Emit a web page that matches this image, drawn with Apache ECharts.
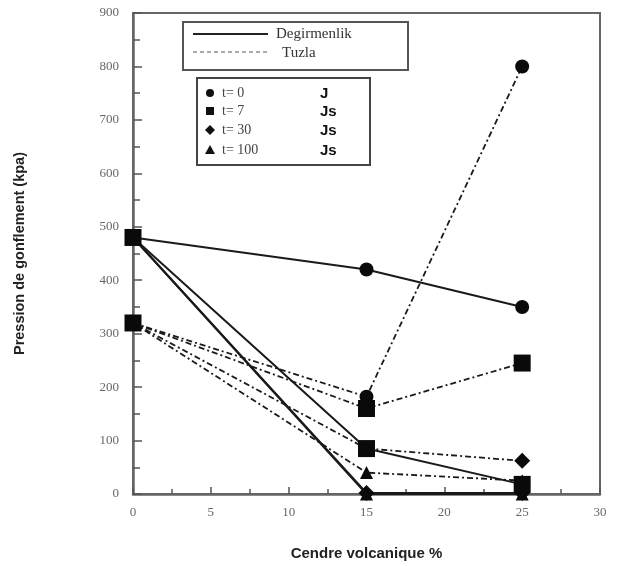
<!DOCTYPE html>
<html>
<head>
<meta charset="utf-8">
<script src="https://cdn.jsdelivr.net/npm/echarts@6/dist/echarts.min.js"></script>
<style>
  html, body { margin: 0; padding: 0; background: #fff; }
  #chart { width: 618px; height: 566px; }
</style>
</head>
<body>
<div id="chart"></div>
<script>
// cendre volcanique (%)
const ash = [0, 15, 25]
const timeLabels = ['t= 0', 't= 7', 't= 30', 't= 100']
const timeUnits = ['J', 'Js', 'Js', 'Js']
const timeSymbols = ['circle', 'rect', 'diamond', 'triangle']

// pression de gonflement (kPa)
const degirmenlik = [
  [480, 420, 350],
  [480, 85, 18],
  [480, 2, 2],
  [480, 0, 0],
]
const tuzla = [
  [320, 182, 800],
  [320, 160, 245],
  [320, 85, 62],
  [320, 40, 25],
]

const xTicks = [0, 5, 10, 15, 20, 25, 30]
const yTicks = [0, 100, 200, 300, 400, 500, 600, 700, 800, 900]

const symbolSizes = [14, 17, 16, 13]
const serif = '"Liberation Serif", "DejaVu Serif", serif'
const sans = '"Liberation Sans", Arial, sans-serif'

function makeSeries(name, values, lineType, width) {
  return values.map((vals, i) => ({
    name: name + ' ' + timeLabels[i],
    type: 'line',
    data: ash.map((x, j) => [x, vals[j]]),
    symbol: timeSymbols[i],
    symbolSize: symbolSizes[i],
    showSymbol: true,
    itemStyle: { color: '#0a0a0a' },
    lineStyle: { color: '#1a1a1a', width: width, type: lineType },
    z: i === 1 ? 5 : 3,
    silent: true,
  }))
}

const chart = echarts.init(document.getElementById('chart'))

const legendX = 197
const legendRows = [93, 111, 130, 150]

const graphics = [
  // legende sites
  { type: 'rect', shape: { x: 183, y: 22, width: 225, height: 48 }, style: { fill: '#fff', stroke: '#555', lineWidth: 2 } },
  { type: 'line', shape: { x1: 193, y1: 34, x2: 268, y2: 34 }, style: { stroke: '#222', lineWidth: 1.8 } },
  { type: 'text', x: 276, y: 34, style: { text: 'Degirmenlik', font: '15px ' + serif, fill: '#333', verticalAlign: 'middle' } },
  { type: 'line', shape: { x1: 193, y1: 52, x2: 268, y2: 52 }, style: { stroke: '#555', lineWidth: 1, lineDash: [4, 3] } },
  { type: 'text', x: 282, y: 53, style: { text: 'Tuzla', font: '15px ' + serif, fill: '#333', verticalAlign: 'middle' } },
  // legende temps
  { type: 'rect', shape: { x: legendX, y: 78, width: 173, height: 87 }, style: { fill: '#fff', stroke: '#444', lineWidth: 2 } },
]

timeLabels.forEach((label, i) => {
  const y = legendRows[i]
  const sx = 210
  let shape
  if (i === 0) shape = { type: 'circle', shape: { cx: sx, cy: y, r: 4 } }
  else if (i === 1) shape = { type: 'rect', shape: { x: sx - 4, y: y - 4, width: 8, height: 8 } }
  else if (i === 2) shape = { type: 'polygon', shape: { points: [[sx, y - 5], [sx + 5, y], [sx, y + 5], [sx - 5, y]] } }
  else shape = { type: 'polygon', shape: { points: [[sx, y - 5], [sx + 5, y + 4], [sx - 5, y + 4]] } }
  shape.style = { fill: '#111' }
  graphics.push(shape)
  graphics.push({ type: 'text', x: 222, y: y, style: { text: label, font: '14px ' + serif, fill: '#444', verticalAlign: 'middle' } })
  graphics.push({ type: 'text', x: 320, y: y + 1, style: { text: timeUnits[i], font: 'bold 15px ' + sans, fill: '#111', verticalAlign: 'middle' } })
})

chart.setOption({
  backgroundColor: '#fff',
  animation: false,
  grid: {
    left: 133, right: 18, top: 13, bottom: 69,
    show: true, borderColor: '#666', borderWidth: 2, backgroundColor: 'transparent',
  },
  xAxis: {
    type: 'value',
    min: 0, max: 30, interval: 5,
    name: 'Cendre volcanique %',
    nameLocation: 'middle',
    nameGap: 52,
    nameTextStyle: { fontFamily: sans, fontWeight: 'bold', fontSize: 15, color: '#222' },
    axisLine: { lineStyle: { color: '#666', width: 2.5 } },
    axisTick: { inside: true, length: 7, lineStyle: { color: '#555', width: 1.5 } },
    minorTick: { show: true, splitNumber: 2, length: 5, lineStyle: { color: '#555', width: 1.5 } },
    axisLabel: { fontFamily: serif, fontSize: 13, color: '#666', margin: 12,
      formatter: v => xTicks.includes(v) ? String(v) : '' },
    splitLine: { show: false },
  },
  yAxis: {
    type: 'value',
    min: 0, max: 900, interval: 100,
    name: 'Pression de gonflement (kpa)',
    nameLocation: 'middle',
    nameGap: 106,
    nameTextStyle: { fontFamily: sans, fontWeight: 'bold', fontSize: 14.5, color: '#222' },
    axisLine: { lineStyle: { color: '#666', width: 2.5 } },
    axisTick: { inside: true, length: 9, lineStyle: { color: '#555', width: 1.5 } },
    minorTick: { show: true, splitNumber: 2, length: 7, lineStyle: { color: '#555', width: 1.5 } },
    axisLabel: { fontFamily: serif, fontSize: 13, color: '#666', margin: 14,
      formatter: v => yTicks.includes(v) ? String(v) : '' },
    splitLine: { show: false },
  },
  graphic: graphics,
  series: [
    ...makeSeries('Tuzla', tuzla, [6, 3, 2, 3], 1.8),
    ...makeSeries('Degirmenlik', degirmenlik, 'solid', 2),
  ],
})
</script>
</body>
</html>
